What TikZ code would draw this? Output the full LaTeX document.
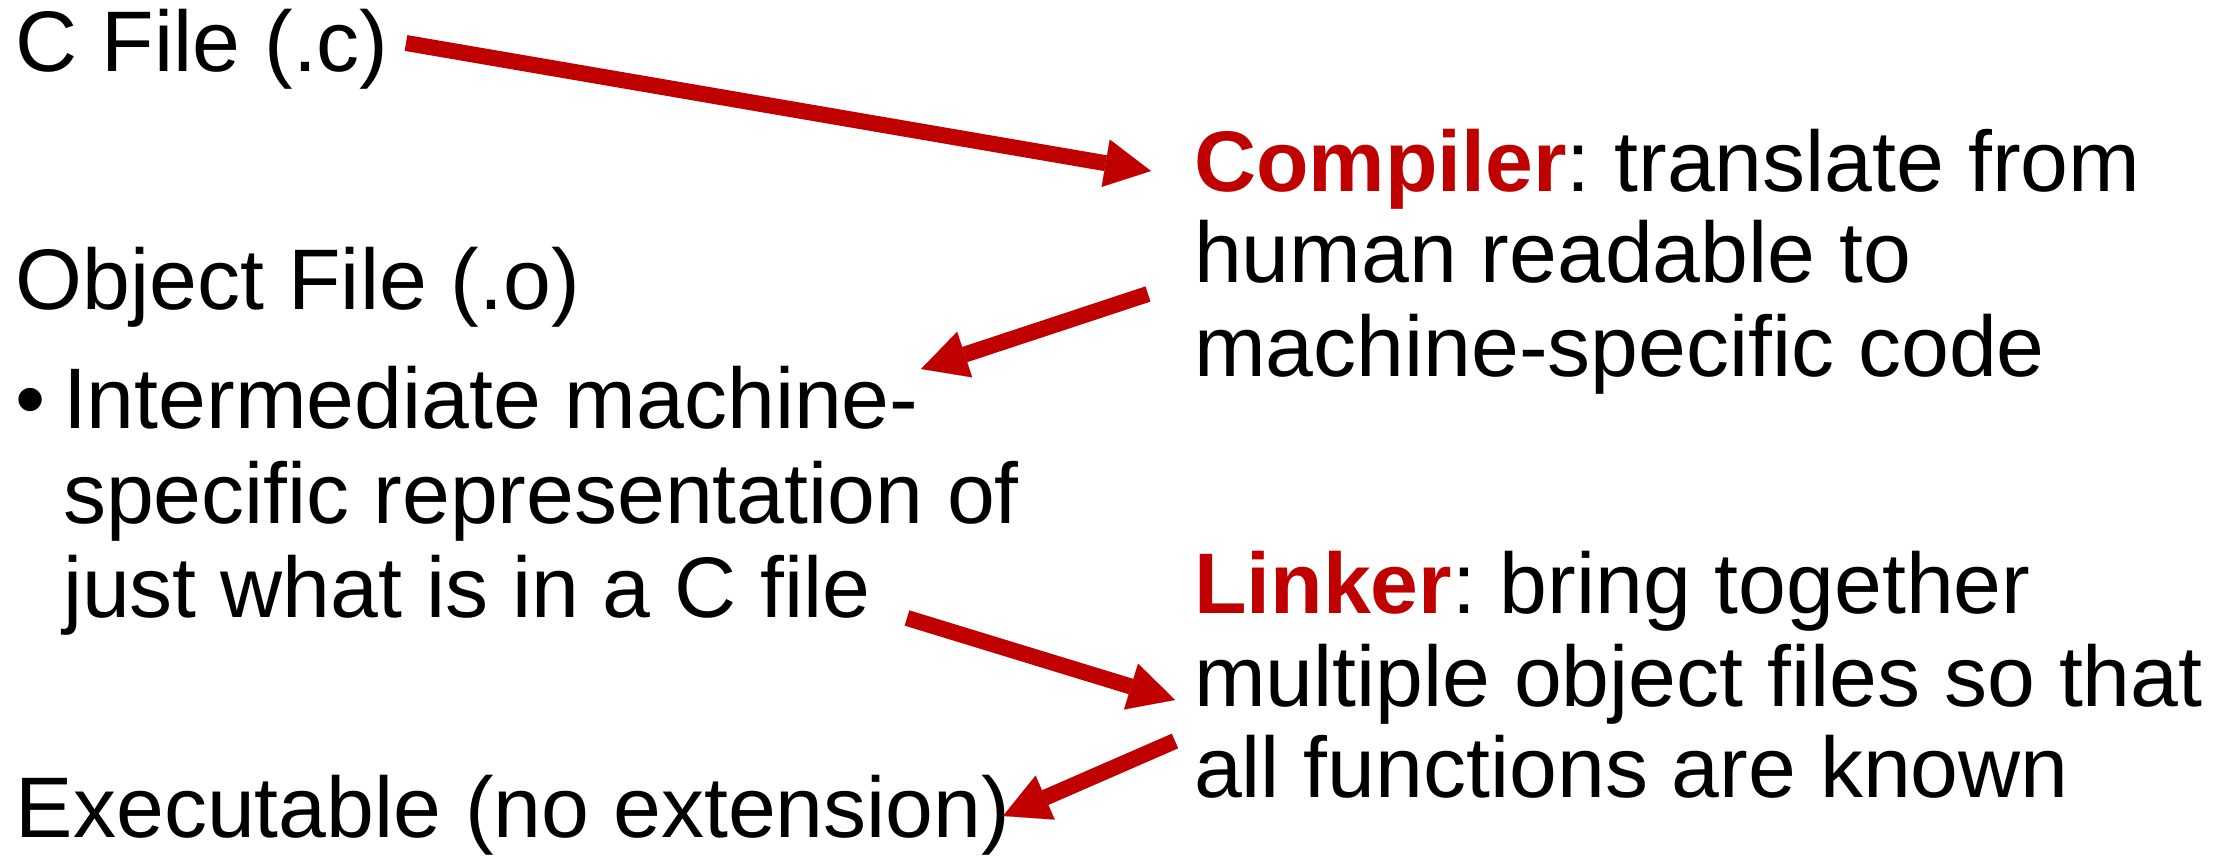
\documentclass[tikz,border=0pt]{standalone}
\usepackage{fontspec}
\setmainfont{Liberation Sans}
\usetikzlibrary{arrows.meta}
\definecolor{pptred}{RGB}{192,0,0}
\frenchspacing
\begin{document}
\begin{tikzpicture}[x=1pt,y=-1pt,
  txt/.style={anchor=base west,inner sep=0pt,outer sep=0pt,font=\fontsize{86}{93}\selectfont\frenchspacing},
  arr/.style={draw=pptred,line width=16pt,-{Triangle[width=48pt,length=46pt,line width=0.1pt]}}]
\useasboundingbox (0,0) rectangle (2221,866);
% left column
\node[txt] (cfile) at (16,72) {C File (.c)};
\node[txt] (ofile) at (16,310) {Object File (.o)};
\node[txt] (bullet) at (16,428) {•};
\node[txt] (b1) at (63,428) {Intermediate machine-};
\node[txt] (b2) at (63,523) {specific representation of};
\node[txt] (b3) at (63,617) {just what is in a C file};
\node[txt] (exe) at (16,837) {Executable (no extension)};
% right column
\node[txt] (comp1) at (1194,192) {\textbf{\color{pptred}Compiler}: translate from};
\node[txt] (comp2) at (1194,283) {human readable to};
\node[txt] (comp3) at (1194,376) {machine-specific code};
\node[txt] (link1) at (1194,613) {\textbf{\color{pptred}Linker}: bring together};
\node[txt] (link2) at (1194,706) {multiple object files so that};
\node[txt] (link3) at (1194,797) {all functions are known};
% arrow end points
\coordinate (a1s) at (406,43);
\coordinate (a1e) at (1151,171);
\coordinate (a2s) at (1148,294);
\coordinate (a2e) at (921,369);
\coordinate (a3s) at (907,618);
\coordinate (a3e) at (1175,700);
\coordinate (a4s) at (1175,741);
\coordinate (a4e) at (1003,816);
\draw[arr] (a1s) -- (a1e);
\draw[arr] (a2s) -- (a2e);
\draw[arr] (a3s) -- (a3e);
\draw[arr] (a4s) -- (a4e);
\end{tikzpicture}
\end{document}
